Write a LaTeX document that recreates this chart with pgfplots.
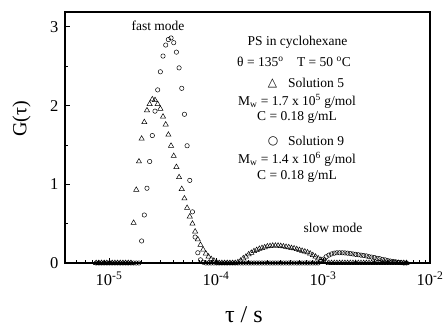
\documentclass[border=0pt]{standalone}
\usepackage{fontspec}
\setmainfont{Liberation Serif}
\newfontfamily\dejavu{DejaVu Sans}
\usepackage{pgfplots}
\usepackage{pgfplotstable}
\pgfplotsset{compat=1.18}
\pgfplotstableread{
lt tri circ
-5.120 0 0
-5.095 0 0
-5.070 0 0
-5.045 0 0
-5.020 0 0
-4.995 0 0
-4.970 0 0
-4.945 0 0
-4.920 0 0
-4.895 0 0
-4.870 0 0
-4.845 0 0
-4.820 0 0
-4.795 0 0
-4.770 0.51 0
-4.745 0.93 0
-4.720 1.29 0
-4.695 1.58 0.28
-4.670 1.79 0.61
-4.645 1.94 0.95
-4.620 2.02 1.29
-4.595 2.08 1.62
-4.570 2.07 1.93
-4.545 2.02 2.20
-4.520 1.96 2.43
-4.495 1.86 2.63
-4.470 1.76 2.77
-4.445 1.63 2.84
-4.420 1.49 2.86
-4.395 1.36 2.80
-4.370 1.22 2.68
-4.345 1.09 2.48
-4.320 0.94 2.22
-4.295 0.82 1.89
-4.270 0.70 1.49
-4.245 0.59 1.05
-4.220 0.50 0.65
-4.195 0.40 0.33
-4.170 0.30 0.13
-4.145 0.23 0.04
-4.120 0.17 0.01
-4.095 0.12 0
-4.070 0.08 0
-4.045 0.05 0
-4.020 0.03 0
-3.995 0.01 0
-3.970 0 0
-3.945 0 0
-3.920 0 0
-3.895 0 0
-3.870 0 0
-3.845 0 0
-3.820 0 0
-3.795 0.01 0
-3.770 0.03 0
-3.745 0.06 0
-3.720 0.08 0
-3.695 0.11 0
-3.670 0.13 0
-3.645 0.15 0
-3.620 0.165 0
-3.595 0.18 0
-3.570 0.19 0
-3.545 0.20 0
-3.520 0.21 0
-3.495 0.215 0
-3.470 0.22 0
-3.445 0.22 0
-3.420 0.22 0
-3.395 0.215 0
-3.370 0.21 0
-3.345 0.205 0
-3.320 0.20 0
-3.295 0.19 0
-3.270 0.185 0
-3.245 0.175 0
-3.220 0.165 0
-3.195 0.155 0
-3.170 0.145 0
-3.145 0.135 0
-3.120 0.12 0
-3.095 0.10 0
-3.070 0.08 0
-3.045 0.06 0
-3.020 0.04 0.02
-2.995 0.02 0.05
-2.970 0.01 0.08
-2.945 0 0.10
-2.920 0 0.115
-2.895 0 0.125
-2.870 0 0.13
-2.845 0 0.13
-2.820 0 0.13
-2.795 0 0.128
-2.770 0 0.125
-2.745 0 0.12
-2.720 0 0.115
-2.695 0 0.11
-2.670 0 0.105
-2.645 0 0.10
-2.620 0 0.095
-2.595 0 0.09
-2.570 0 0.08
-2.545 0 0.075
-2.520 0 0.07
-2.495 0 0.06
-2.470 0 0.055
-2.445 0 0.045
-2.420 0 0.04
-2.395 0 0.03
-2.370 0 0.025
-2.345 0 0.02
-2.320 0 0.015
-2.295 0 0.01
-2.270 0 0.005
-2.245 0 0
-2.220 0 0
}\datatab

\begin{document}
\begin{tikzpicture}[x=1pt,y=1pt]
\useasboundingbox (0,0) rectangle (444,327);
\begin{axis}[
  at={(65pt,64pt)}, anchor=south west,
  scale only axis, width=365pt, height=251pt,
  xmode=log, xmin=3.88e-6, xmax=1e-2,
  ymin=0, ymax=3.19,
  xtick={1e-5,1e-4,1e-3,1e-2},
  xticklabels={10\textsuperscript{-5},10\textsuperscript{-4},10\textsuperscript{-3},10\textsuperscript{-2}},
  minor xtick={5e-6,6e-6,7e-6,8e-6,9e-6,2e-5,3e-5,4e-5,5e-5,6e-5,7e-5,8e-5,9e-5,2e-4,3e-4,4e-4,5e-4,6e-4,7e-4,8e-4,9e-4,2e-3,3e-3,4e-3,5e-3,6e-3,7e-3,8e-3,9e-3},
  ytick={0,1,2,3}, minor ytick={0.5,1.5,2.5},
  xtick pos=bottom, ytick pos=left,
  tick align=inside,
  major tick length=5pt, minor tick length=3pt,
  axis line style={line width=1.4pt},
  every tick/.style={black, line width=0.9pt},
  clip=false,
  xticklabel style={font=\fontsize{16.5}{18}\selectfont, yshift=-5pt},
  yticklabel style={font=\fontsize{16.5}{18}\selectfont, xshift=-3pt, /pgf/number format/assume math mode=true},
  xlabel={τ / s},
  xlabel style={font=\fontsize{24}{26}\selectfont, at={(axis description cs:0.49,-0.205)}, anchor=center},
  ylabel={G(τ)},
  ylabel style={font=\fontsize{20}{22}\selectfont, at={(axis description cs:-0.119,0.574)}, anchor=center, rotate=0},
]
\addplot[only marks, mark=triangle, mark size=3pt, mark options={line width=0.5pt, black}] table[x expr={10^(\thisrow{lt})}, y=tri]{\datatab};
\addplot[only marks, mark=o, mark size=2.2pt, mark options={line width=0.5pt, black}] table[x expr={10^(\thisrow{lt})}, y=circ]{\datatab};
\end{axis}
\begin{scope}[every node/.style={font=\fontsize{13.5}{15}\selectfont, inner sep=0pt}]
\node at (158,301) {fast mode};
\node at (297.5,285) {PS in cyclohexane};
\node at (294,265) {θ = 135\textsuperscript{o}\quad T = 50 \textsuperscript{o}C};
\node at (272.5,244) {\dejavu\fontsize{12}{14}\selectfont △};
\node[anchor=west] at (288,244) {Solution 5};
\node at (297,226) {M\textsubscript{w} = 1.7 x 10\textsuperscript{5} g/mol};
\node at (297,210) {C = 0.18 g/mL};
\node at (273,186) {\dejavu\fontsize{12}{14}\selectfont ○};
\node[anchor=west] at (288,186) {Solution 9};
\node at (297,168) {M\textsubscript{w} = 1.4 x 10\textsuperscript{6} g/mol};
\node at (297,151) {C = 0.18 g/mL};
\node at (333,99) {slow mode};
\end{scope}
\end{tikzpicture}
\end{document}
